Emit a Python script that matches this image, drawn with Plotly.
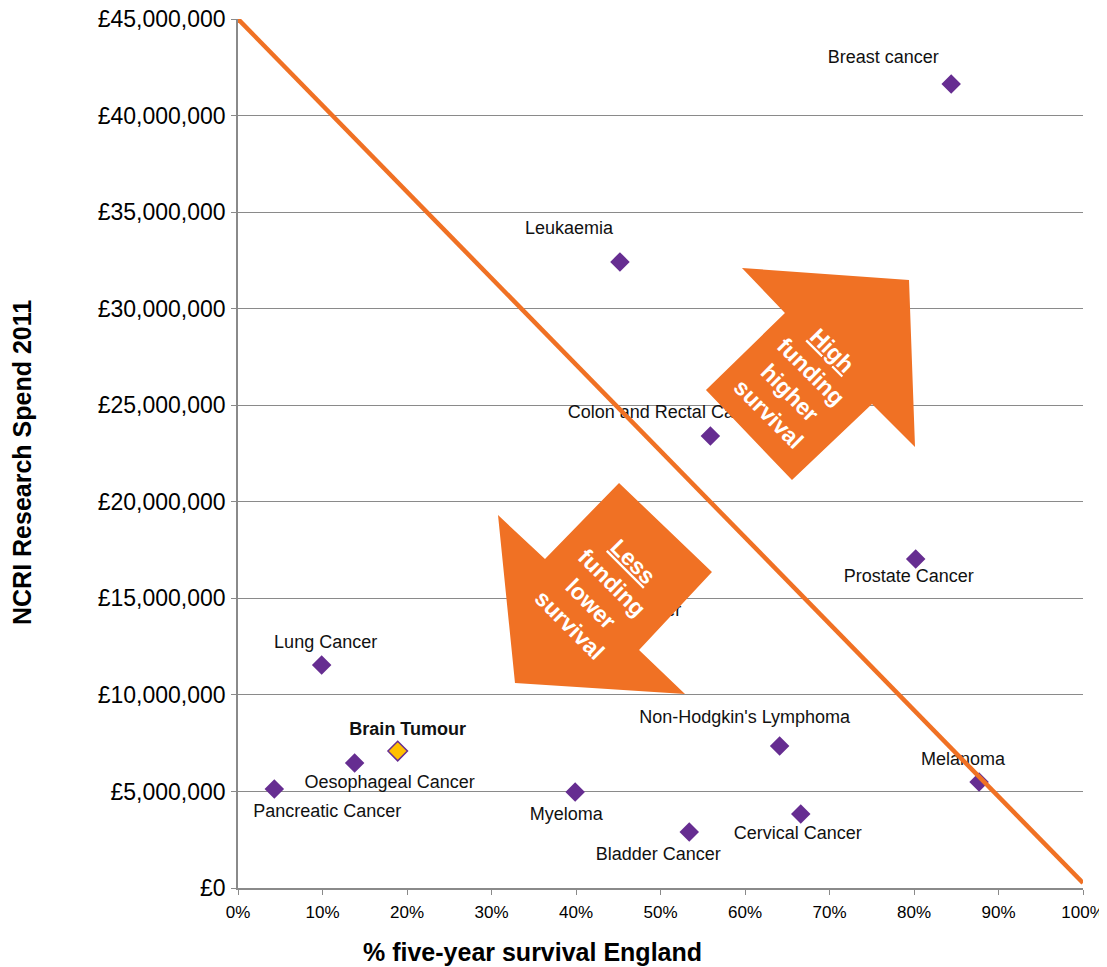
import plotly.graph_objects as go

# ---------------- data ----------------
cancer_names = ["Breast cancer", "Leukaemia", "Colon and Rectal Cancer", "Prostate Cancer",
                "Ovarian Cancer", "Lung Cancer", "Non-Hodgkin's Lymphoma", "Brain Tumour",
                "Oesophageal Cancer", "Pancreatic Cancer", "Myeloma", "Melanoma",
                "Bladder Cancer", "Cervical Cancer"]
survival_5yr = [0.844, 0.452, 0.559, 0.802, 0.450, 0.099, 0.641, 0.189,
                0.138, 0.043, 0.399, 0.877, 0.534, 0.666]
research_spend = [41.63e6, 32.42e6, 23.41e6, 17.04e6, 13.3e6, 11.55e6, 7.35e6, 7.09e6,
                  6.47e6, 5.13e6, 4.97e6, 5.49e6, 2.90e6, 3.83e6]
highlight = "Brain Tumour"

divider_x = [0.0, 1.0]
divider_y = [45.0e6, 0.26e6]

x_ticks = [i / 10 for i in range(11)]
x_tick_text = ["%d%%" % round(v * 100) for v in x_ticks]
y_ticks = [i * 5e6 for i in range(10)]
y_tick_text = ["£{:,}".format(int(v)) for v in y_ticks]

# ---------------- style ----------------
OFF = 8                       # page body margin of the html page
W, H = 1107 - OFF, 967 - OFF
ML, MT = 238 - OFF, 19 - OFF
PW, PH = 1083 - 238, 888 - 19
MR, MB = W - ML - PW, H - MT - PH
XR, YR = [0, 1], [0, 45e6]
FONT = "Liberation Sans, Arial, sans-serif"
PURPLE = "#662D91"
YELLOW = "#FFC000"
ORANGE = "#F07124"
GRID = "#8A8A8A"

# label offsets in pixels (dx, dy) relative to each point
label_offsets = {
    "Breast cancer": (-68, -26), "Leukaemia": (-51, -32), "Colon and Rectal Cancer": (-42, -22),
    "Prostate Cancer": (-7, 19), "Ovarian Cancer": (0, -20), "Lung Cancer": (4, -21),
    "Non-Hodgkin's Lymphoma": (-35, -28), "Brain Tumour": (10, -21),
    "Oesophageal Cancer": (35, 20), "Pancreatic Cancer": (53, 24), "Myeloma": (-9, 23),
    "Melanoma": (-16, -21), "Bladder Cancer": (-31, 23), "Cervical Cancer": (-3, 20),
}

def px_to_dx(dx):
    return dx * (XR[1] - XR[0]) / PW

def px_to_dy(dy):
    return -dy * (YR[1] - YR[0]) / PH

def paper(px, py):
    """screen pixel -> paper coordinates"""
    return (px - OFF - ML) / PW, (MT + PH - (py - OFF)) / PH

fig = go.Figure()

# markers
colors = [YELLOW if n == highlight else PURPLE for n in cancer_names]
fig.add_trace(go.Scatter(
    x=survival_5yr, y=research_spend, mode="markers",
    marker=dict(symbol="diamond", size=15, color=colors,
                line=dict(color=PURPLE, width=[1.5 if n == highlight else 0 for n in cancer_names])),
    hoverinfo="skip", showlegend=False))

# labels
lx = [x + px_to_dx(label_offsets[n][0]) for n, x in zip(cancer_names, survival_5yr)]
ly = [y + px_to_dy(label_offsets[n][1]) for n, y in zip(cancer_names, research_spend)]
ltext = ["<b>%s</b>" % n if n == highlight else n for n in cancer_names]
fig.add_trace(go.Scatter(
    x=lx, y=ly, mode="text", text=ltext, textposition="middle center",
    textfont=dict(family=FONT, size=18, color="#111111"),
    cliponaxis=False, hoverinfo="skip", showlegend=False))

# divider line
fig.add_trace(go.Scatter(
    x=divider_x, y=divider_y, mode="lines",
    line=dict(color=ORANGE, width=4.5), hoverinfo="skip", showlegend=False))

# block arrows (paper coordinates derived from pixel geometry)
def poly(points):
    pts = [paper(px, py) for px, py in points]
    return "M " + " L ".join("%.4f,%.4f" % p for p in pts) + " Z"

arrow_high = [(742, 268), (909, 280), (915, 447), (872, 404), (792, 480), (706, 390), (785, 313)]
arrow_less = [(498, 515), (545, 559), (619, 483), (712, 572), (639, 650), (685, 694), (515, 683)]
for a in (arrow_high, arrow_less):
    fig.add_shape(type="path", path=poly(a), xref="paper", yref="paper",
                  fillcolor=ORANGE, line=dict(width=0), layer="above")

for txt, (px, py) in [("<u>High</u><br>funding<br>higher<br>survival", (800, 382)),
                      ("<u>Less</u><br>funding<br>lower<br>survival", (601, 593))]:
    ax, ay = paper(px, py)
    fig.add_annotation(x=ax, y=ay, xref="paper", yref="paper", text="<b>%s</b>" % txt,
                       showarrow=False, textangle=45, xanchor="center", yanchor="middle",
                       font=dict(family=FONT, size=23, color="white"))

# axis titles
tx, ty = paper(532, 952)
fig.add_annotation(x=tx, y=ty, xref="paper", yref="paper", showarrow=False,
                   xanchor="center", yanchor="middle",
                   text="<b>% five-year survival England</b>",
                   font=dict(family=FONT, size=25, color="black"))
tx, ty = paper(22, 463)
fig.add_annotation(x=tx, y=ty, xref="paper", yref="paper", showarrow=False, textangle=-90,
                   xanchor="center", yanchor="middle",
                   text="<b>NCRI Research Spend 2011</b>",
                   font=dict(family=FONT, size=25, color="black"))

fig.update_layout(
    width=W, height=H, autosize=False,
    margin=dict(l=ML, r=MR, t=MT, b=MB, autoexpand=False),
    paper_bgcolor="white", plot_bgcolor="white",
    font=dict(family=FONT, color="black"),
    xaxis=dict(range=XR, tickvals=x_ticks, ticktext=x_tick_text, showgrid=False, zeroline=False,
               automargin=False, ticklabelstandoff=3, ticklabeloverflow="allow",
               showline=True, linecolor=GRID, linewidth=1.5, ticks="outside", ticklen=5,
               tickcolor=GRID, tickfont=dict(size=17, family=FONT, color="black")),
    yaxis=dict(range=YR, tickvals=y_ticks, ticktext=y_tick_text, showgrid=True,
               automargin=False, ticklabeloverflow="allow",
               gridcolor=GRID, gridwidth=1.4, zeroline=False, showline=True, linecolor=GRID,
               linewidth=1.5, ticks="outside", ticklen=5, tickcolor=GRID,
               ticklabelstandoff=1, tickfont=dict(size=23, family=FONT, color="black")),
)

fig.write_html("out.html")
